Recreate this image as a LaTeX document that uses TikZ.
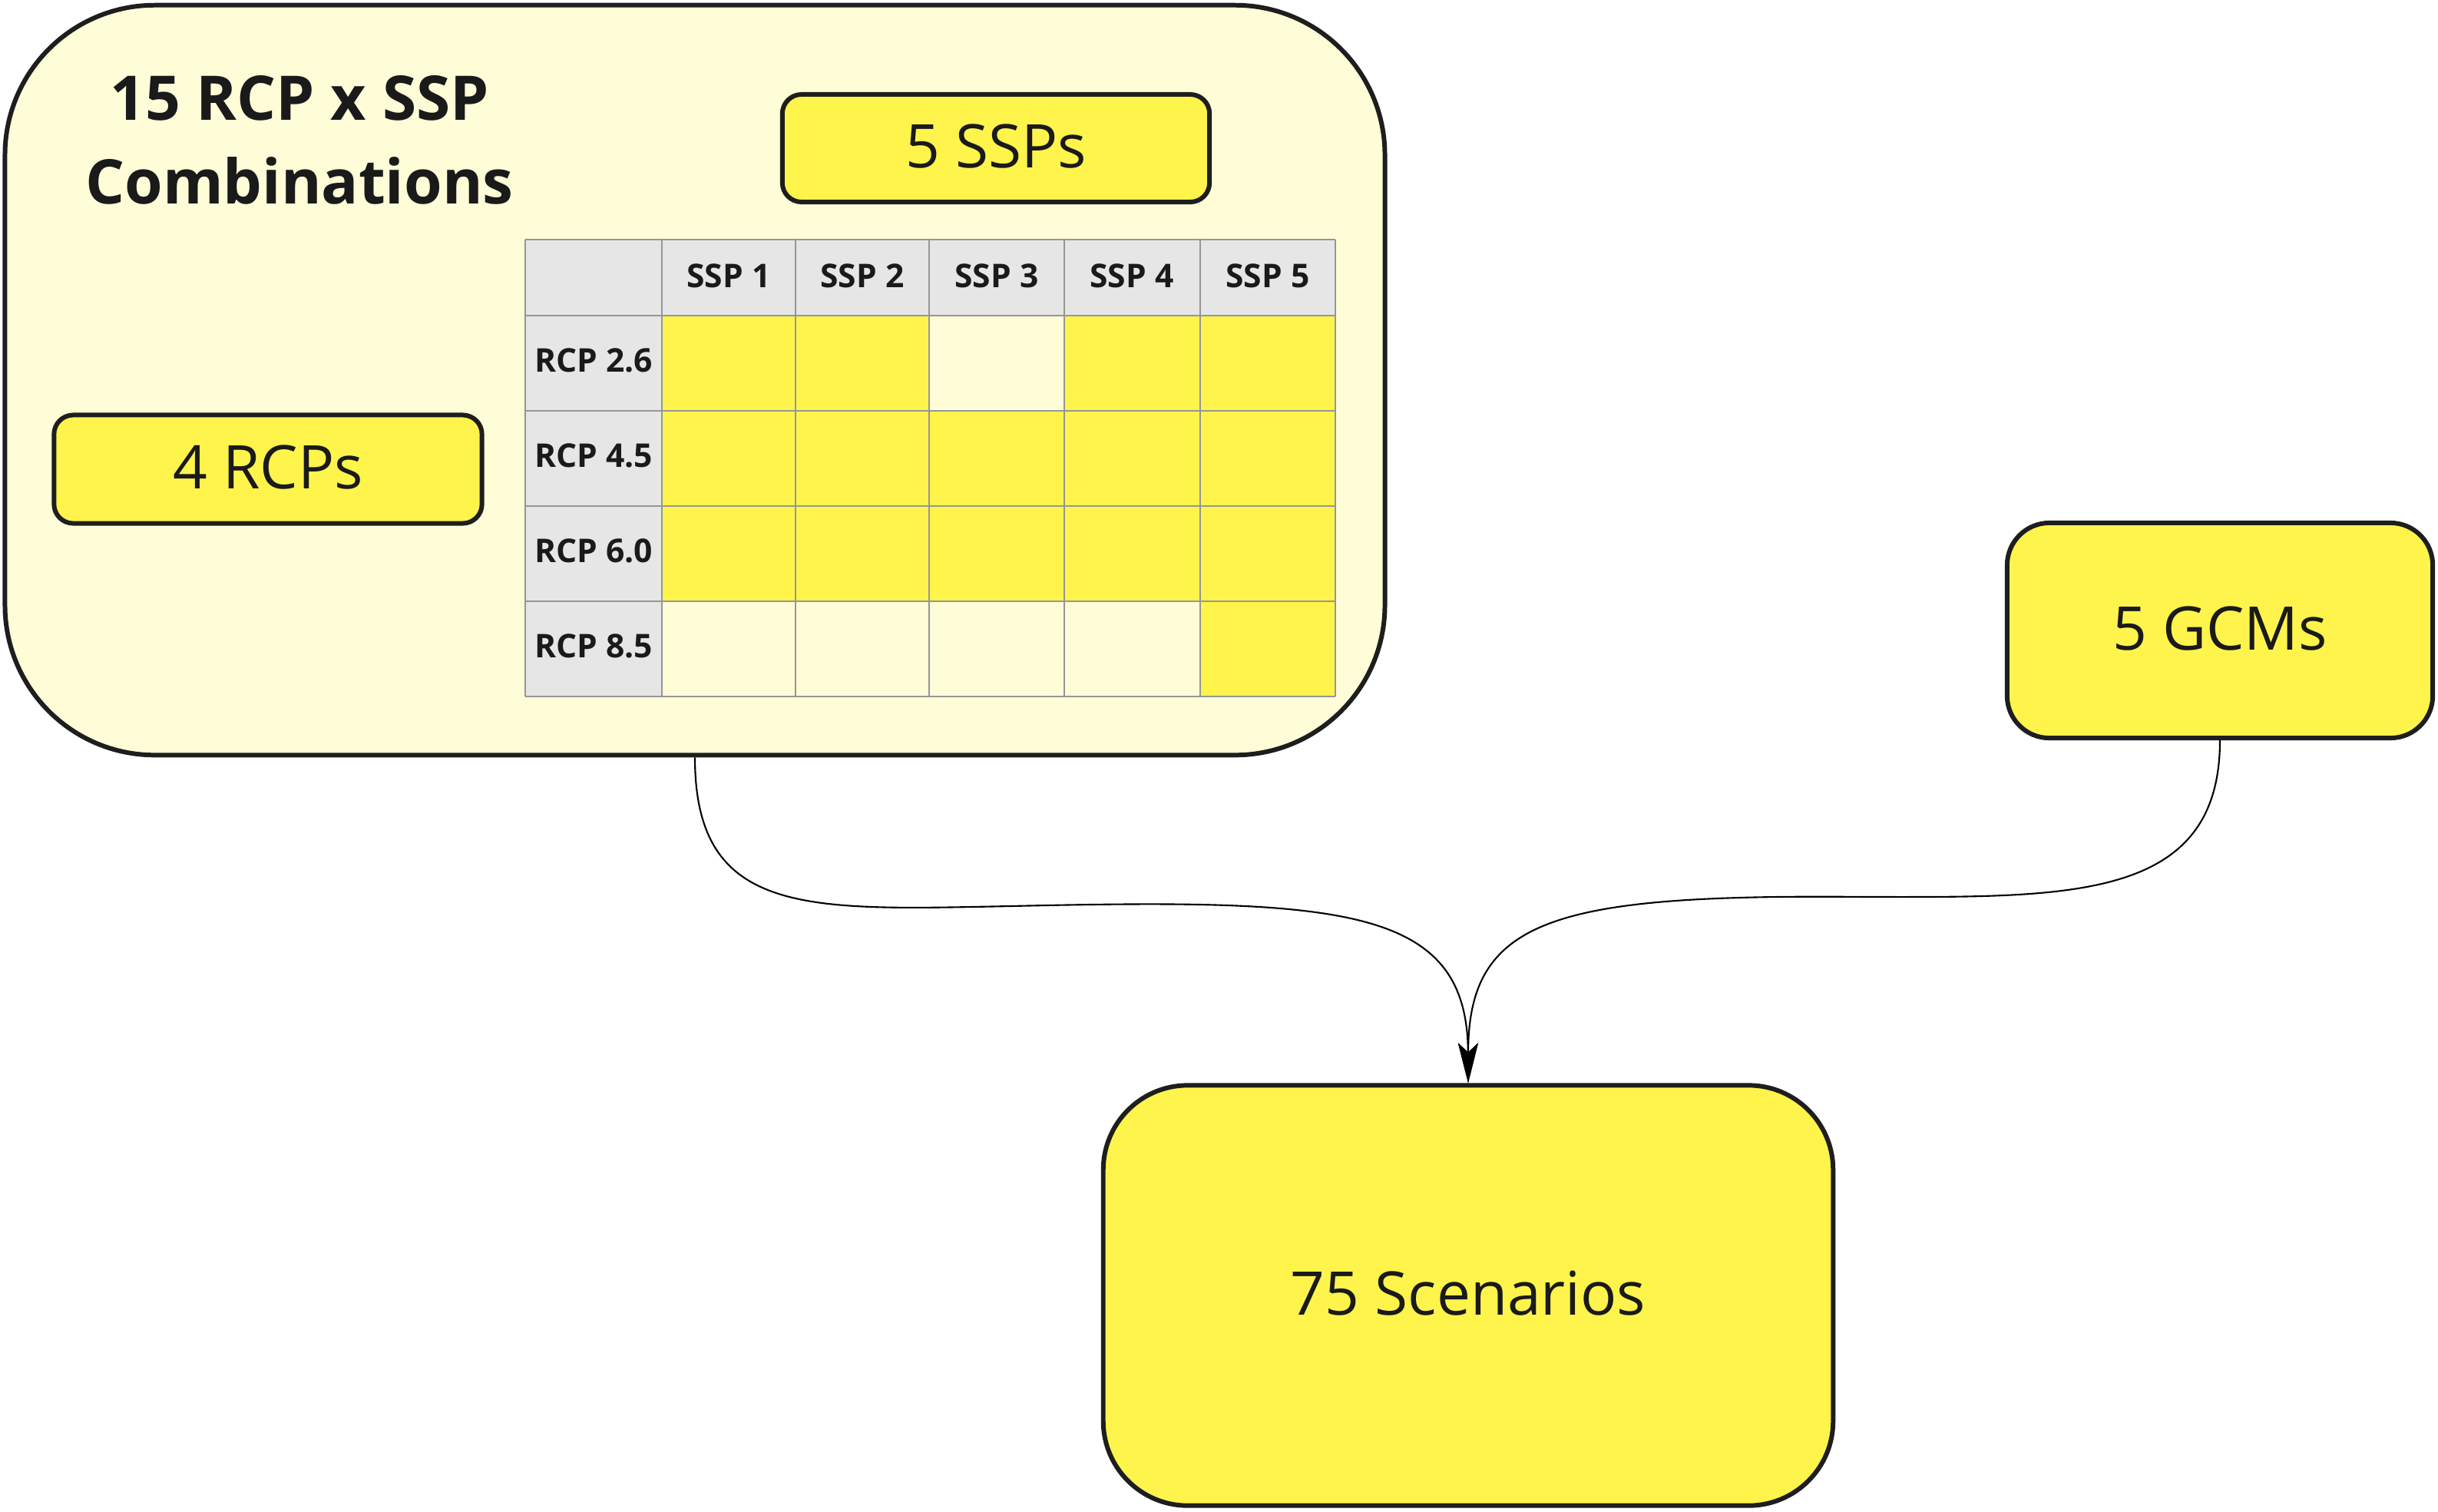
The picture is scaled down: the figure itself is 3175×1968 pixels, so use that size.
\documentclass[tikz,border=0pt]{standalone}
\usepackage{fontspec}
\setmainfont{Open Sans}
\usetikzlibrary{arrows.meta}
\definecolor{yfill}{RGB}{255,244,75}
\definecolor{lfill}{RGB}{255,252,216}
\definecolor{gfill}{RGB}{230,230,230}
\definecolor{edgec}{RGB}{30,30,30}
\definecolor{gridc}{RGB}{150,150,150}
\definecolor{txt}{RGB}{26,26,26}
\begin{document}
\begin{tikzpicture}[x=0.01cm,y=-0.01cm,
  box/.style={draw=edgec, line width=1.7pt, fill=yfill, text=txt,
    font=\fontsize{22.3}{26}\selectfont, inner sep=0pt},
  hdr/.style={text=txt, font=\bfseries\fontsize{12.1}{14}\selectfont, inner sep=0pt},
  conn/.style={draw=black, line width=0.6pt, -{Stealth[length=0.52cm, width=0.26cm, inset=0.12cm]}}
]
\useasboundingbox (0,0) rectangle (3175,1968);
% outer combination box
\node[draw=edgec, line width=1.7pt, fill=lfill, rounded corners=1.95cm,
  minimum width=17.96cm, minimum height=9.76cm, inner sep=0pt] (comb) at (905,495) {};
\node[text=txt, font=\bfseries\fontsize{22.8}{31}\selectfont, align=center, inner sep=0pt]
  (title) at (390,182) {15 RCP x SSP\\Combinations};
\node[box, rounded corners=0.25cm, minimum width=5.56cm, minimum height=1.40cm] (ssps) at (1297,193) {\raisebox{0.06cm}{5 SSPs}};
\node[box, rounded corners=0.25cm, minimum width=5.57cm, minimum height=1.41cm] (rcps) at (349,611) {\raisebox{0.05cm}{4 RCPs}};
% table
\fill[gfill] (684,312) rectangle (1739,411);
\fill[gfill] (684,411) rectangle (862,907);
\fill[yfill] (862,411) rectangle (1739,783);
\fill[lfill] (1210,411) rectangle (1386,535);
\fill[lfill] (862,783) rectangle (1563,907);
\fill[yfill] (1563,783) rectangle (1739,907);
\foreach \xx in {684,862,1036,1210,1386,1563,1739}
  \draw[gridc, line width=0.5pt] (\xx,312) -- (\xx,907);
\foreach \yy in {312,411,535,659,783,907}
  \draw[gridc, line width=0.5pt] (684,\yy) -- (1739,\yy);
\node[hdr] (s1) at (949,359) {SSP 1};
\node[hdr] (s2) at (1123,359) {SSP 2};
\node[hdr] (s3) at (1298,359) {SSP 3};
\node[hdr] (s4) at (1474,359) {SSP 4};
\node[hdr] (s5) at (1651,359) {SSP 5};
\node[hdr] (r1) at (773,469) {RCP 2.6};
\node[hdr] (r2) at (773,593) {RCP 4.5};
\node[hdr] (r3) at (773,717) {RCP 6.0};
\node[hdr] (r4) at (773,841) {RCP 8.5};
% other boxes
\node[box, rounded corners=0.55cm, minimum width=5.54cm, minimum height=2.80cm] (gcm) at (2891,821) {\raisebox{0.05cm}{5 GCMs}};
\node[box, rounded corners=1.1cm, minimum width=9.50cm, minimum height=5.47cm] (scen) at (1912,1687) {\raisebox{0.06cm}{75 Scenarios}};
% connectors
\draw[conn] (comb.south) .. controls (905,1195) and (1053,1185) .. (1316,1180)
  .. controls (1750,1170) and (1911,1180) .. (scen.north);
\draw[conn] (gcm.south) .. controls (2891,1175) and (2693,1168) .. (2430,1168)
  .. controls (2025,1164) and (1912,1195) .. (scen.north);
\end{tikzpicture}
\end{document}
